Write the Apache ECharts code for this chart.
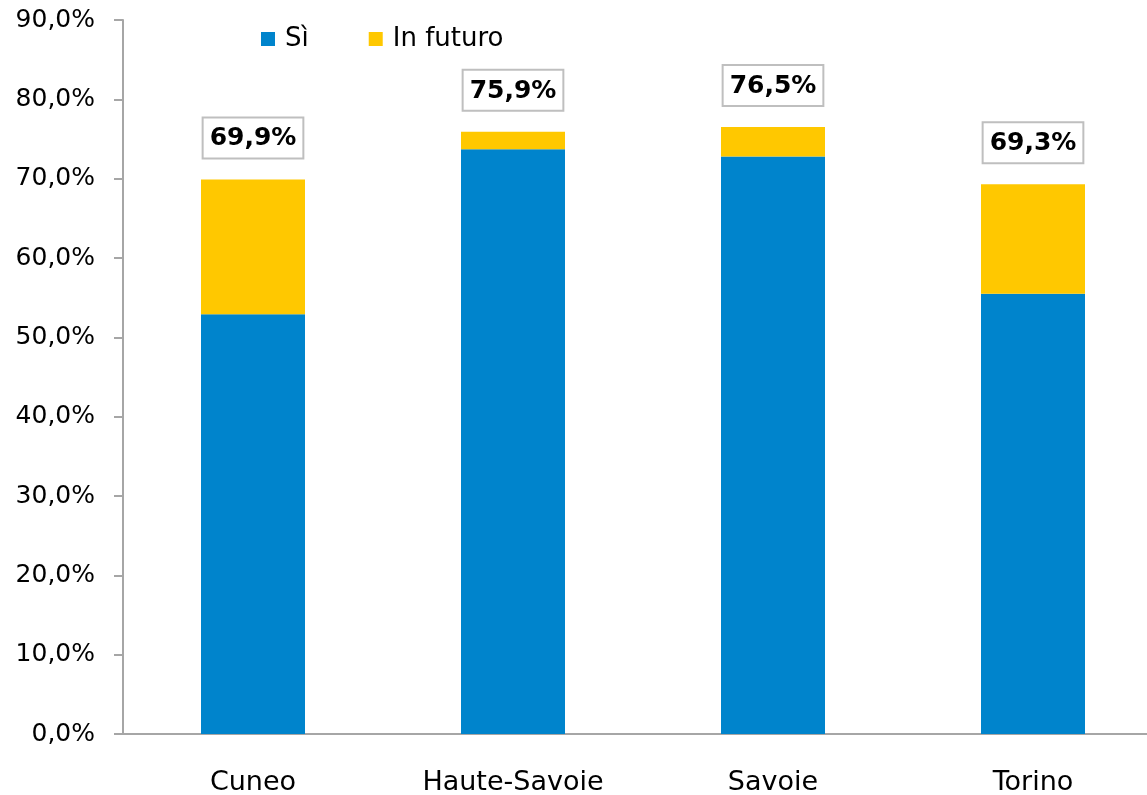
<!DOCTYPE html>
<html><head><meta charset="utf-8">
<script src="https://cdn.jsdelivr.net/npm/echarts@6/dist/echarts.min.js"></script>
<style>html,body{margin:0;padding:0;background:#fff}#c{width:1147px;height:795px}</style>
</head><body><div id="c"></div>
<script>
const categories = ['Cuneo', 'Haute-Savoie', 'Savoie', 'Torino'];
const si = [52.9, 73.7, 72.8, 55.5];
const totals = [69.9, 75.9, 76.5, 69.3];
const inFuturo = [17.0, 2.2, 3.7, 13.8];
const yTicks = [0, 10, 20, 30, 40, 50, 60, 70, 80, 90];

const FONT = 'DejaVu Sans';
const fmt = v => v.toFixed(1).replace('.', ',') + '%';
const chart = echarts.init(document.getElementById('c'));
chart.setOption({
  animation: false,
  textStyle: { fontFamily: FONT },
  legend: {
    top: 21, left: 256, itemWidth: 14, itemHeight: 14, itemGap: 60,
    icon: 'rect',
    textStyle: { fontFamily: FONT, fontSize: 26, color: '#000', padding: [0, 0, 0, 5] },
    data: ['Sì', 'In futuro']
  },
  grid: { left: 123, width: 1040, top: 20, bottom: 61, outerBoundsMode: 'none', containLabel: false },
  xAxis: {
    type: 'category', data: categories,
    axisLine: { lineStyle: { color: '#a6a6a6', width: 2 } },
    axisTick: { length: 10, lineStyle: { color: '#a6a6a6', width: 2 } },
    axisLabel: { fontFamily: FONT, fontSize: 27, color: '#000', margin: 35 }
  },
  yAxis: {
    type: 'value', min: yTicks[0], max: yTicks[yTicks.length - 1], interval: 10,
    axisLine: { show: true, lineStyle: { color: '#a6a6a6', width: 2 } },
    axisTick: { show: true, length: 9, lineStyle: { color: '#a6a6a6', width: 2 } },
    splitLine: { show: false },
    axisLabel: { fontFamily: FONT, fontSize: 25, color: '#000', margin: 28, formatter: v => fmt(v) }
  },
  series: [
    { name: 'Sì', type: 'bar', stack: 't', data: si, barWidth: '40%',
      itemStyle: { color: '#0084CC' } },
    { name: 'In futuro', type: 'bar', stack: 't', data: inFuturo, barWidth: '40%',
      itemStyle: { color: '#FFC800' },
      label: {
        show: true, position: 'top', distance: 22,
        formatter: p => fmt(totals[p.dataIndex]),
        fontFamily: FONT, fontSize: 25, fontWeight: 'bold', color: '#000',
        backgroundColor: '#fff', borderColor: '#bfbfbf', borderWidth: 2,
        padding: [8, 6, 6, 6]
      } }
  ]
});
</script></body></html>
